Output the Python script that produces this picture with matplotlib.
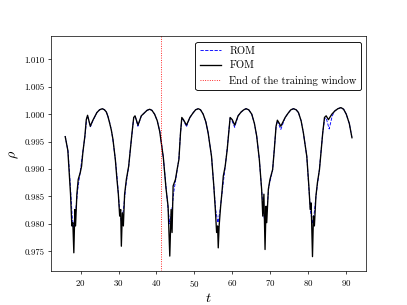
import numpy as np
import matplotlib
matplotlib.use('Agg')
from matplotlib import pyplot as plt

plt.rcParams['font.family'] = 'serif'
plt.rcParams['font.serif'] = ['cmr10']
plt.rcParams['mathtext.fontset'] = 'cm'
plt.rcParams['axes.formatter.use_mathtext'] = True

# full order model
t_fom = [15.95, 16.64, 17.09, 17.35, 17.70, 17.96, 18.22, 18.49, 18.67, 19.02,
         19.38, 19.90, 20.26, 20.60, 21.13, 21.50, 21.84, 22.55, 23.24, 24.30,
         25.00, 25.72, 26.30, 26.78, 27.20, 27.65, 28.10, 28.53, 29.16, 29.58,
         29.95, 30.30, 30.56, 30.74, 31.00, 31.27, 31.60, 32.06, 32.67, 33.12,
         33.55, 34.00, 34.34, 35.13, 36.00, 36.90, 37.50, 38.20, 38.80, 39.50,
         40.20, 40.86, 41.80, 42.50, 43.05, 43.30, 43.50, 43.85, 44.10, 44.38,
         45.00, 45.43, 45.90, 46.33, 46.67, 47.10, 47.90, 48.80, 49.60, 50.30,
         51.00, 51.60, 52.30, 53.00, 53.60, 54.50, 55.10, 55.50, 55.84, 56.10,
         56.27, 56.50, 56.90, 57.24, 57.60, 58.10, 58.64, 59.10, 59.40, 59.96,
         60.60, 61.50, 62.30, 63.00, 63.60, 64.30, 65.10, 65.80, 66.40, 67.10,
         67.70, 68.00, 68.30, 68.60, 68.86, 69.04, 69.47, 69.90, 70.60, 71.05,
         71.50, 71.85, 72.30, 72.75, 73.90, 74.70, 75.40, 76.10, 76.80, 77.40,
         78.10, 78.70, 79.60, 80.14, 80.50, 80.75, 80.93, 81.10, 81.35, 81.60,
         82.00, 82.40, 82.94, 83.40, 83.80, 84.26, 84.70, 85.30, 86.20, 87.00,
         87.80, 88.60, 89.30, 90.00, 90.80, 91.50]
rho_fom = [0.9959, 0.9934, 0.9885, 0.9854, 0.9796, 0.9802, 0.9747, 0.9826, 0.9796, 0.9854,
           0.9881, 0.9893, 0.9905, 0.9930, 0.9960, 0.9990, 0.9998, 0.9978, 0.9989, 1.0003,
           1.0008, 1.0010, 1.0008, 1.0004, 0.9996, 0.9984, 0.9971, 0.9954, 0.9917, 0.9881,
           0.9854, 0.9814, 0.9826, 0.9759, 0.9820, 0.9796, 0.9854, 0.9881, 0.9905, 0.9936,
           0.9966, 0.9994, 0.9997, 0.9980, 0.9997, 1.0003, 1.0007, 1.0009, 1.0007, 1.0000,
           0.9988, 0.9968, 0.9921, 0.9865, 0.9832, 0.9781, 0.9741, 0.9826, 0.9784, 0.9869,
           0.9881, 0.9899, 0.9917, 0.9966, 0.9994, 0.9990, 0.9980, 0.9994, 1.0002, 1.0008,
           1.0010, 1.0008, 1.0000, 0.9986, 0.9966, 0.9923, 0.9869, 0.9826, 0.9784, 0.9796,
           0.9756, 0.9796, 0.9832, 0.9857, 0.9887, 0.9905, 0.9936, 0.9972, 0.9994, 0.9990,
           0.9980, 0.9997, 1.0004, 1.0008, 1.0010, 1.0008, 1.0000, 0.9983, 0.9960, 0.9917,
           0.9863, 0.9814, 0.9854, 0.9753, 0.9832, 0.9802, 0.9863, 0.9881, 0.9899, 0.9936,
           0.9978, 0.9989, 0.9984, 0.9978, 0.9994, 1.0002, 1.0008, 1.0010, 1.0008, 1.0003,
           0.9988, 0.9966, 0.9923, 0.9869, 0.9826, 0.9838, 0.9784, 0.9740, 0.9814, 0.9796,
           0.9850, 0.9875, 0.9899, 0.9936, 0.9966, 0.9994, 0.9997, 0.9990, 1.0000, 1.0006,
           1.0010, 1.0012, 1.0009, 1.0000, 0.9983, 0.9957]

# reduced order model (smoother, mostly hidden under the FOM)
t_rom = [15.95, 16.70, 17.30, 17.80, 18.20, 18.60, 19.20, 20.00, 20.60, 21.20,
         21.60, 21.90, 22.60, 23.30, 24.30, 25.00, 25.70, 26.30, 26.80, 27.20,
         27.70, 28.10, 28.50, 29.20, 29.70, 30.30, 30.80, 31.30, 31.90, 32.70,
         33.10, 33.60, 34.00, 34.40, 35.10, 36.00, 36.90, 37.50, 38.20, 38.80,
         39.50, 40.20, 40.90, 41.80, 42.50, 43.00, 43.50, 44.00, 44.60, 45.40,
         45.90, 46.30, 46.70, 47.10, 47.90, 48.80, 49.60, 50.30, 51.00, 51.60,
         52.30, 53.00, 53.60, 54.50, 55.10, 55.60, 56.20, 56.70, 57.30, 58.10,
         58.60, 59.10, 59.40, 59.90, 60.60, 61.50, 62.30, 63.00, 63.60, 64.30,
         65.10, 65.80, 66.40, 67.10, 67.70, 68.20, 68.60, 69.10, 69.60, 70.60,
         71.00, 71.50, 71.85, 72.30, 72.75, 73.90, 74.70, 75.40, 76.10, 76.80,
         77.40, 78.10, 78.70, 79.60, 80.10, 80.60, 81.10, 81.60, 82.10, 82.90,
         83.40, 83.80, 84.30, 84.70, 85.50, 86.30, 87.00, 87.80, 88.60, 89.30,
         90.00, 90.80, 91.50]
rho_rom = [0.9960, 0.9932, 0.9870, 0.9812, 0.9792, 0.9815, 0.9860, 0.9900, 0.9932, 0.9962,
           0.9992, 0.9996, 0.9977, 0.9989, 1.0003, 1.0008, 1.0010, 1.0008, 1.0004, 0.9996,
           0.9984, 0.9971, 0.9954, 0.9915, 0.9878, 0.9822, 0.9802, 0.9826, 0.9868, 0.9906,
           0.9936, 0.9967, 0.9994, 0.9996, 0.9978, 0.9997, 1.0003, 1.0007, 1.0009, 1.0007,
           1.0000, 0.9988, 0.9968, 0.9921, 0.9868, 0.9830, 0.9800, 0.9822, 0.9860, 0.9896,
           0.9918, 0.9964, 0.9993, 0.9989, 0.9977, 0.9994, 1.0002, 1.0008, 1.0010, 1.0008,
           1.0000, 0.9986, 0.9966, 0.9923, 0.9868, 0.9825, 0.9802, 0.9822, 0.9858, 0.9904,
           0.9936, 0.9972, 0.9993, 0.9988, 0.9976, 0.9997, 1.0004, 1.0008, 1.0010, 1.0008,
           1.0000, 0.9983, 0.9960, 0.9917, 0.9862, 0.9820, 0.9800, 0.9825, 0.9868, 0.9898,
           0.9934, 0.9976, 0.9988, 0.9980, 0.9972, 0.9994, 1.0002, 1.0008, 1.0010, 1.0008,
           1.0003, 0.9988, 0.9966, 0.9923, 0.9870, 0.9822, 0.9800, 0.9822, 0.9855, 0.9898,
           0.9936, 0.9966, 0.9992, 0.9993, 0.9973, 0.9997, 1.0006, 1.0010, 1.0012, 1.0009,
           1.0000, 0.9983, 0.9957]

t_train_end = 41.1
yticks = [0.975, 0.980, 0.985, 0.990, 0.995, 1.000, 1.005, 1.010]

fig = plt.figure(figsize=(6.4, 4.8), dpi=407/6.4)
ax = plt.gca()
ax.plot(t_rom, rho_rom, '--', color='blue', lw=1.0, label='ROM')
ax.plot(t_fom, rho_fom, '-', color='black', lw=1.5, label='FOM')
ax.axvline(t_train_end, color='red', ls=':', lw=1.0, label='End of the training window')
ax.set_ylim(0.9713, 1.0142)
ax.set_xticks([20, 30, 40, 50, 60, 70, 80, 90])
ax.set_yticks(yticks)
ax.set_yticklabels(['%.3f' % v for v in yticks])
ax.set_xlabel(r'$t$', fontsize=16)
ax.set_ylabel(r'$\rho$', fontsize=16)
ax.legend(loc='upper right', edgecolor='k', framealpha=1, fontsize=12)
plt.savefig('out.png', dpi=407/6.4)
